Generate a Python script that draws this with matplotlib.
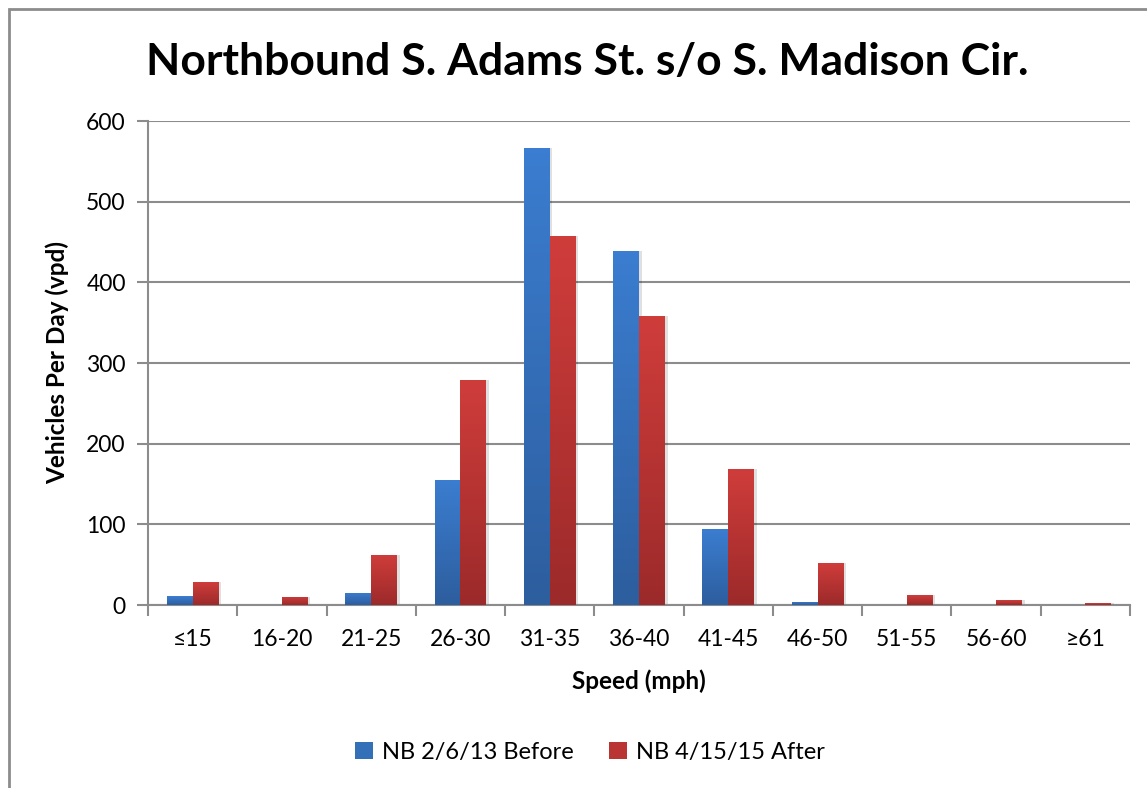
import numpy as np
import matplotlib
matplotlib.use('Agg')
import matplotlib.pyplot as plt
from matplotlib.patches import Rectangle, Patch
from matplotlib.colors import LinearSegmentedColormap

# Data
speeds = ['≤15', '16-20', '21-25', '26-30', '31-35', '36-40',
          '41-45', '46-50', '51-55', '56-60', '≥61']
before = [11, 0, 15, 155, 566, 439, 94, 4, 0, 0, 0]
after = [28, 10, 62, 279, 457, 358, 169, 52, 12, 6, 2]
series_names = ['NB 2/6/13 Before', 'NB 4/15/15 After']

plt.rcParams['font.family'] = ['Lato', 'DejaVu Sans']

fig = plt.figure(figsize=(11.47, 7.88), dpi=100)
ax = fig.add_axes([148/1147, 1-605/788, (1130-148)/1147, (605-121)/788])

# outer frame of the chart object
fig.patches.append(Rectangle((9/1147, -0.1), 1.2, 1-9/788+0.1, transform=fig.transFigure,
                             fill=False, edgecolor='#8c8c8c', linewidth=2))

x = np.arange(len(speeds))
w = 0.29
blue_cm = LinearSegmentedColormap.from_list('b', ['#2d5e9e', '#3b7dd0'])
red_cm = LinearSegmentedColormap.from_list('r', ['#9c2a2a', '#cf3d3b'])
grad = np.linspace(0, 1, 100).reshape(-1, 1)

for vals, off, cm, col in [(before, -w/2, blue_cm, '#3878c8'), (after, w/2, red_cm, '#c83a38')]:
    bars = ax.bar(x + off, vals, width=w, color=col, zorder=3)
    for b in bars:
        h = b.get_height()
        if h <= 0:
            continue
        # soft shadow
        ax.add_patch(Rectangle((b.get_x() + 0.03, 0), b.get_width(), h,
                               facecolor='#000000', alpha=0.12, zorder=2.5, linewidth=0))
        im = ax.imshow(grad, cmap=cm, aspect='auto', origin='lower',
                       extent=[b.get_x(), b.get_x() + b.get_width(), 0, h], zorder=3.5)
        im.set_clip_path(b)

ax.set_xlim(-0.5, len(speeds) - 0.5)
ax.set_ylim(0, 600)
ax.set_yticks(range(0, 601, 100))
ax.set_xticks(x)
ax.set_xticklabels(speeds, fontsize=16.5)
ax.set_xticks(np.arange(-0.5, len(speeds)), minor=True)
ax.tick_params(axis='x', which='major', length=0, pad=17)
ax.tick_params(axis='x', which='minor', length=8, color='#8c8c8c', width=1.5)
ax.tick_params(axis='y', length=8, color='#8c8c8c', width=1.5, labelsize=16.5, pad=8)
ax.grid(axis='y', color='#8c8c8c', linewidth=1.5, zorder=0)
ax.set_axisbelow(True)
for s in ['top', 'right']:
    ax.spines[s].set_visible(False)
for s in ['left', 'bottom']:
    ax.spines[s].set_color('#8c8c8c')
    ax.spines[s].set_linewidth(1.5)

ax.set_xlabel('Speed (mph)', fontsize=17.5, fontweight='bold', labelpad=14)
ax.set_ylabel('Vehicles Per Day (vpd)', fontsize=17.5, fontweight='bold', labelpad=12)
fig.text(587/1147, 1-62/788, 'Northbound S. Adams St. s/o S. Madison Cir.',
         ha='center', va='center', fontsize=32, fontweight='bold')

handles = [Patch(facecolor='#3470b8'), Patch(facecolor='#b93433')]
fig.legend(handles, series_names, loc='center', bbox_to_anchor=(590/1147, 1-752/788),
           ncol=2, frameon=False, fontsize=17, handlelength=0.75, handleheight=0.75,
           handletextpad=0.4, columnspacing=1.5)

fig.savefig('out.png', dpi=100)
